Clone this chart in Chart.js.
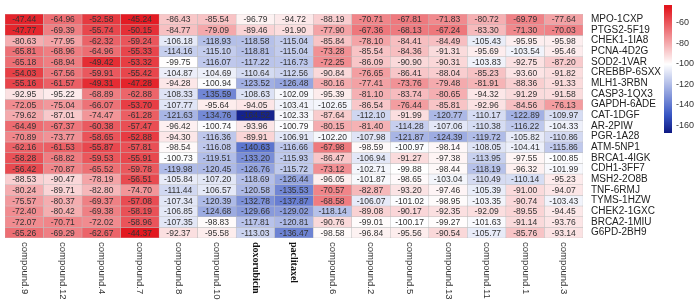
<!DOCTYPE html>
<html lang="en">
<head>
    <meta charset="UTF-8">
    <title>Docking score heatmap</title>
    <script src="https://cdn.jsdelivr.net/npm/chart.js"></script>
    <style>
        body { margin: 0; background: #fff; }
        #wrap { width: 700px; height: 306px; position: relative; }
    </style>
</head>
<body>
    <div id="wrap"><canvas id="heat"></canvas></div>

    <script>
        // column / row names
        const compounds = ['compound.9', 'compound.12', 'compound.4', 'compound.7', 'compound.8', 'compound.10',
            'doxorubicin', 'paclitaxel', 'compound.6', 'compound.2', 'compound.5', 'compound.13',
            'compound.11', 'compound.1', 'compound.3'];
        const targets = ['MPO-1CXP', 'PTGS2-5F19', 'CHEK1-1IA8', 'PCNA-4D2G', 'SOD2-1VAR', 'CREBBP-6SXX',
            'MLH1-3RBN', 'CASP3-1QX3', 'GAPDH-6ADE', 'CAT-1DGF', 'AR-2PIW', 'PGR-1A28', 'ATM-5NP1',
            'BRCA1-4IGK', 'CDH1-3FF7', 'MSH2-2O8B', 'TNF-6RMJ', 'TYMS-1HZW', 'CHEK2-1GXC', 'BRCA2-1MIU', 'G6PD-2BH9'];

        // one array per target row, same order as compounds
        const mpo   = [-47.44, -64.96, -52.58, -45.24, -86.43, -85.54, -96.79, -94.72, -88.19, -70.71, -67.81, -71.83, -80.72, -69.79, -77.64];
        const ptgs2 = [-47.77, -69.39, -55.74, -50.15, -84.77, -79.09, -89.46, -91.90, -77.90, -67.36, -68.13, -67.24, -83.30, -71.30, -70.03];
        const chek1 = [-80.63, -77.95, -62.32, -59.24, -106.18, -118.93, -118.58, -115.04, -85.84, -78.10, -84.41, -84.49, -105.43, -95.95, -95.98];
        const pcna  = [-65.81, -68.96, -64.96, -55.33, -114.16, -115.10, -118.81, -115.04, -73.28, -85.54, -84.36, -91.31, -95.69, -103.54, -95.46];
        const sod2  = [-65.18, -68.94, -49.42, -53.32, -99.75, -116.07, -117.22, -116.73, -72.25, -86.09, -90.90, -90.31, -103.83, -92.75, -87.20];
        const crebbp = [-54.03, -67.56, -59.91, -55.42, -104.87, -104.69, -110.64, -112.56, -90.84, -76.65, -86.41, -88.04, -85.23, -93.60, -91.82];
        const mlh1  = [-55.16, -61.57, -49.31, -47.28, -94.28, -100.94, -123.52, -126.48, -80.16, -77.41, -73.76, -79.48, -81.91, -88.36, -91.33];
        const casp3 = [-92.95, -95.22, -68.89, -62.88, -108.33, -135.59, -108.63, -102.09, -95.39, -81.10, -83.74, -80.65, -94.32, -91.29, -91.58];
        const gapdh = [-72.05, -75.04, -66.07, -53.70, -107.77, -95.64, -94.05, -103.41, -102.65, -86.54, -76.44, -85.81, -92.96, -84.56, -76.13];
        const cat   = [-79.62, -87.01, -74.47, -61.28, -121.63, -134.76, -164.52, -102.33, -87.64, -112.10, -91.99, -120.77, -110.17, -122.89, -109.97];
        const ar    = [-64.49, -67.37, -60.38, -57.47, -96.42, -100.74, -93.96, -100.79, -80.15, -81.40, -114.28, -107.06, -110.38, -116.22, -104.33];
        const pgr   = [-70.89, -73.77, -58.65, -52.88, -94.30, -116.36, -89.91, -106.91, -102.20, -107.98, -121.87, -124.39, -119.72, -105.82, -110.86];
        const atm   = [-62.16, -61.53, -55.87, -57.81, -98.54, -116.08, -140.63, -116.66, -67.98, -98.59, -100.97, -98.14, -108.05, -104.41, -115.86];
        const brca1 = [-58.28, -68.82, -59.53, -55.91, -100.73, -119.51, -133.20, -115.93, -86.47, -106.94, -91.27, -97.38, -113.95, -97.55, -100.85];
        const cdh1  = [-56.42, -70.87, -65.52, -59.78, -119.98, -120.45, -126.76, -115.72, -73.12, -102.71, -99.88, -98.44, -118.19, -96.32, -101.99];
        const msh2  = [-88.53, -90.47, -78.19, -56.51, -105.84, -107.20, -118.69, -126.44, -96.05, -101.87, -98.65, -103.04, -110.49, -110.14, -95.23];
        const tnf   = [-80.24, -89.71, -82.80, -74.70, -111.44, -106.57, -120.58, -135.53, -70.57, -82.87, -93.20, -97.46, -105.39, -91.00, -94.07];
        const tyms  = [-75.57, -80.37, -69.37, -57.08, -107.34, -120.39, -132.78, -137.87, -68.58, -106.07, -101.02, -98.95, -103.35, -90.74, -103.43];
        const chek2 = [-72.40, -80.42, -69.38, -58.19, -106.85, -124.68, -129.66, -129.02, -118.14, -89.08, -90.17, -92.35, -92.09, -89.55, -94.45];
        const brca2 = [-72.07, -70.71, -72.02, -58.96, -107.35, -98.83, -117.81, -120.81, -90.76, -99.01, -100.17, -99.27, -101.63, -91.14, -93.76];
        const g6pd  = [-65.26, -69.29, -62.67, -44.37, -92.37, -95.58, -113.03, -136.47, -98.58, -96.84, -95.56, -90.54, -105.77, -85.76, -93.14];

        const rows = [mpo, ptgs2, chek1, pcna, sod2, crebbp, mlh1, casp3, gapdh, cat, ar, pgr, atm,
            brca1, cdh1, msh2, tnf, tyms, chek2, brca2, g6pd];

        const legendTicks = [-60, -80, -100, -120, -140, -160];

        // navy -> blue -> white -> red
        const stops = [
            [-168, [12, 22, 128]],
            [-150, [55, 85, 195]],
            [-100, [255, 255, 255]],
            [-44, [226, 22, 30]]
        ];
        function colorFor(v) {
            if (v <= stops[0][0]) return 'rgb(' + stops[0][1].join(',') + ')';
            for (let i = 1; i < stops.length; i++) {
                if (v <= stops[i][0]) {
                    const t = (v - stops[i - 1][0]) / (stops[i][0] - stops[i - 1][0]);
                    const a = stops[i - 1][1], b = stops[i][1];
                    return 'rgb(' + a.map((c, k) => Math.round(c + (b[k] - c) * t)).join(',') + ')';
                }
            }
            return 'rgb(' + stops[stops.length - 1][1].join(',') + ')';
        }

        // each row is a dataset of floating bars spanning [r-0.5, r+0.5]
        const datasets = rows.map((vals, r) => ({
            label: targets[r],
            data: vals.map(() => [r - 0.5, r + 0.5]),
            backgroundColor: vals.map(colorFor),
            borderColor: '#bdbdbd',
            borderWidth: 0.5,
            borderSkipped: false,
            grouped: false,
            barPercentage: 1,
            categoryPercentage: 1
        }));

        // cell numbers, column names and colour key
        const extras = {
            id: 'extras',
            afterDatasetsDraw(chart) {
                const { ctx, scales: { x, y } } = chart;
                ctx.save();
                ctx.font = '8.5px "Liberation Sans", Arial, sans-serif';
                ctx.fillStyle = '#333';
                ctx.textAlign = 'center';
                ctx.textBaseline = 'middle';
                rows.forEach((vals, r) => {
                    vals.forEach((v, c) => {
                        ctx.fillText(v.toFixed(2), x.getPixelForValue(c), y.getPixelForValue(r) + 0.5);
                    });
                });
                ctx.restore();
            },
            afterDraw(chart) {
                const { ctx, chartArea, scales: { x } } = chart;
                ctx.save();
                // rotated column labels, reading downwards
                compounds.forEach((name, c) => {
                    const px = x.getPixelForValue(c);
                    ctx.save();
                    ctx.translate(px, chartArea.bottom + 4);
                    ctx.rotate(Math.PI / 2);
                    const drug = name === 'doxorubicin' || name === 'paclitaxel';
                    ctx.font = drug ? 'bold 10px "Liberation Serif", "Times New Roman", serif'
                                    : '9.5px "Liberation Sans", Arial, sans-serif';
                    ctx.fillStyle = drug ? '#111' : '#333';
                    ctx.textAlign = 'left';
                    ctx.textBaseline = 'middle';
                    ctx.fillText(name, 0, 0);
                    ctx.restore();
                });

                // colour key
                const top = 5, bottom = 133, left = 664, w = 8;
                const vTop = -42.4, vBot = -167.8;
                const toPx = v => top + (vTop - v) / (vTop - vBot) * (bottom - top);
                for (let py = top; py < bottom; py++) {
                    const v = vTop - (py - top) / (bottom - top) * (vTop - vBot);
                    ctx.fillStyle = colorFor(v);
                    ctx.fillRect(left, py, w, 1);
                }
                ctx.font = '9px "Liberation Sans", Arial, sans-serif';
                ctx.fillStyle = '#333';
                ctx.textAlign = 'left';
                ctx.textBaseline = 'middle';
                legendTicks.forEach(t => ctx.fillText(String(t), 676, toPx(t)));
                ctx.restore();
            }
        };

        new Chart(document.getElementById('heat'), {
            type: 'bar',
            data: { labels: compounds, datasets: datasets },
            options: {
                responsive: true,
                maintainAspectRatio: false,
                animation: false,
                layout: { padding: { top: 7, bottom: 68, left: 5, right: 37 } },
                plugins: { legend: { display: false }, tooltip: { enabled: false } },
                scales: {
                    x: { type: 'category', display: false },
                    y: {
                        type: 'linear',
                        position: 'right',
                        reverse: true,
                        min: -0.5,
                        max: 20.5,
                        grid: { display: false, drawTicks: false },
                        border: { display: false },
                        afterBuildTicks: scale => { scale.ticks = targets.map((_, i) => ({ value: i })); },
                        afterFit: scale => { scale.width = 80; },
                        ticks: {
                            autoSkip: false,
                            padding: 8,
                            color: '#222',
                            font: { family: '"Liberation Sans", Arial, sans-serif', size: 10 },
                            callback: v => targets[v]
                        }
                    }
                }
            },
            plugins: [extras]
        });
    </script>
</body>
</html>
